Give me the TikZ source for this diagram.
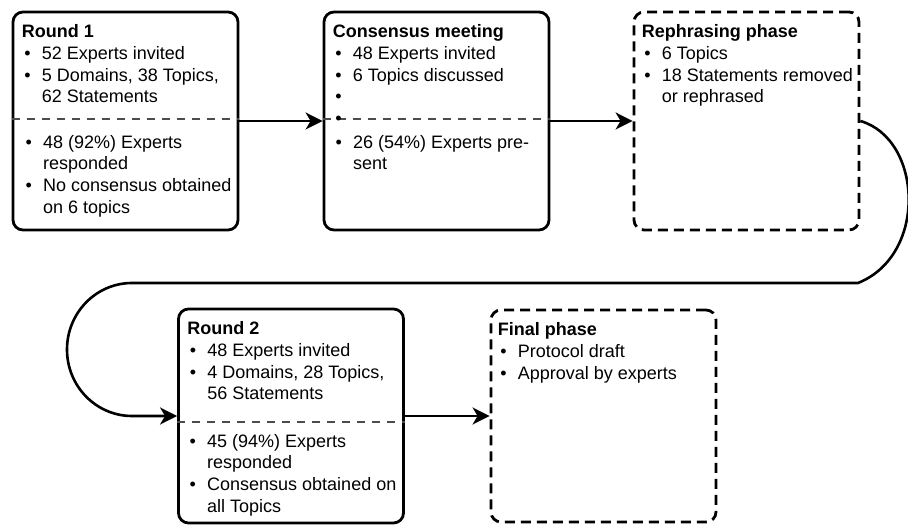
\documentclass[tikz,border=0pt]{standalone}
\usepackage{fontspec}
\setmainfont{Liberation Sans}
\usepackage{tikz}
\usetikzlibrary{arrows.meta,positioning}
\tikzstyle{stage}=[rectangle, rounded corners=10pt, draw=black, line width=2.8pt, minimum width=225pt, minimum height=218pt, inner sep=0pt]
\tikzstyle{plan} = [stage, dash pattern=on 10pt off 6pt]
\tikzstyle{txt} = [anchor=north west, inner sep=0pt, align=left, font=\fontsize{18}{21.7}\selectfont]
\tikzstyle{divider} = [draw, line width=1.1pt, black!70, dash pattern=on 8pt off 7pt]
\tikzstyle{flow} = [draw, line width=2.6pt, -{Stealth[length=17pt,width=17pt,inset=5pt]}]
\newcommand{\bul}{\hspace*{2.5pt}\makebox[17.5pt][l]{•}}
\newcommand{\cont}{\hspace*{20pt}}

\begin{document}
\begin{tikzpicture}[x=1pt, y=-1pt]
	\useasboundingbox (0,0) rectangle (908,526);

	% first row
	\node[stage] (r1) at (125.5,121) {};
	\node[stage] (cm) at (436.5,121) {};
	\node[plan] (rp) at (746.5,121) {};

	% second row
	\node[stage, minimum height=214pt] (r2) at (291,416) {};
	\node[plan, minimum height=212pt] (fp) at (603.5,416) {};

	\coordinate (r1div) at (0,119);
	\coordinate (r2div) at (0,422);
	\foreach \stg/\lvl in {r1/r1div, cm/r1div, r2/r2div}{
		\draw[divider] (\stg.west |- \lvl) -- (\stg.east |- \lvl);
	}

	\node[txt, below right=14pt and 10pt of r1.north west] (r1top) {\textbf{Round 1}\\ \bul 52 Experts invited\\ \bul 5 Domains, 38 Topics,\\ \cont 62 Statements};
	\node[txt] (r1bot) at (23,135) {\bul 48 (92\%) Experts\\ \cont responded\\ \bul No consensus obtained\\ \cont on 6 topics};

	\node[txt, below right=14pt and 10pt of cm.north west] (cmtop) {\textbf{Consensus meeting}\\ \bul 48 Experts invited\\ \bul 6 Topics discussed\\ \bul\\ \bul};
	\node[txt] (cmbot) at (333,135) {\bul 26 (54\%) Experts pre-\\ \cont sent};

	\node[txt, below right=14pt and 9pt of rp.north west] (rptop) {\textbf{Rephrasing phase}\\ \bul 6 Topics\\ \bul 18 Statements removed\\ \cont or rephrased};

	\node[txt, below right=14pt and 10pt of r2.north west] (r2top) {\textbf{Round 2}\\ \bul 48 Experts invited\\ \bul 4 Domains, 28 Topics,\\ \cont 56 Statements};
	\node[txt] (r2bot) at (187,434) {\bul 45 (94\%) Experts\\ \cont responded\\ \bul Consensus obtained on\\ \cont all Topics};

	\node[txt, below right=14pt and 8pt of fp.north west] (fptop) {\textbf{Final phase}\\ \bul Protocol draft\\ \bul Approval by experts};

	\draw[flow] (r1) -- (cm);
	\draw[flow] (cm) -- (rp);
	\draw[flow] (r2) -- (fp);

	\coordinate (bendR) at (858,283);
	\coordinate (bendL) at (132,283);
	\draw[flow] (rp.east) .. controls +(62,18) and +(70,-28) .. (bendR) -- (bendL)
		arc[start angle=-90, end angle=-270, x radius=65, y radius=66.5] -- (r2.west);
\end{tikzpicture}
\end{document}
